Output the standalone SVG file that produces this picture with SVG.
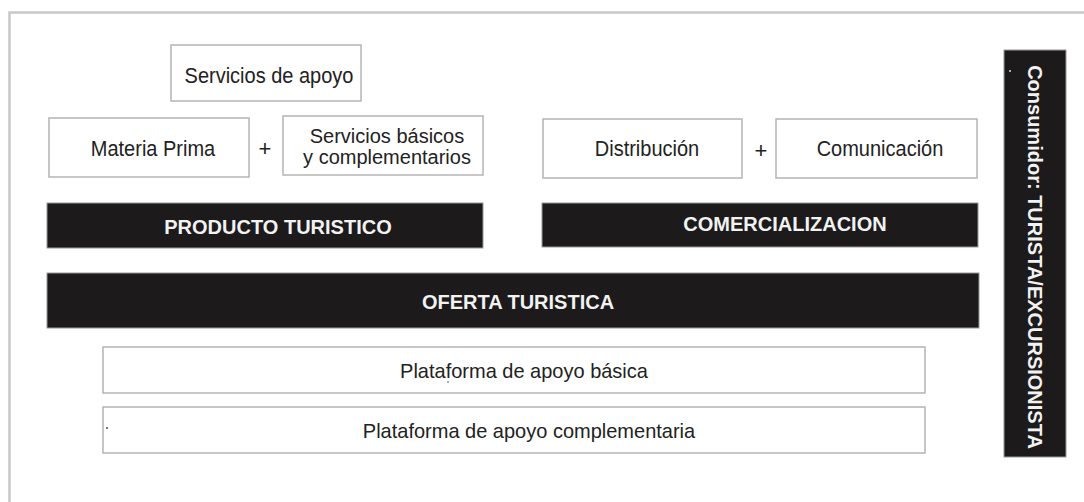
<svg xmlns="http://www.w3.org/2000/svg" width="1084" height="502" viewBox="0 0 1084 502">
<style>
.box{fill:#fff;stroke:#b4b4b4;stroke-width:1.5}
.bar{fill:#1c1a1b;stroke:#9a9a9a;stroke-width:1}
.t{font-family:"Liberation Sans",Arial,sans-serif;font-size:20px;fill:#222;text-anchor:middle}
.b{font-family:"Liberation Sans",Arial,sans-serif;font-size:20px;font-weight:bold;fill:#f2f2f2;text-anchor:middle}
.frame{fill:none;stroke:#c8c8c8;stroke-width:2.5}
</style>
<rect width="1084" height="502" fill="#fff"/>
<path class="frame" d="M9.5,504 V12.5 H1086"/>
<g id="servicios-apoyo"><rect class="box" x="171" y="45" width="190" height="56"/><text class="t" transform="translate(269,83) scale(1,1.12)">Servicios de apoyo</text></g>
<g id="materia-prima"><rect class="box" x="49" y="118" width="200" height="59"/><text class="t" transform="translate(153,156) scale(1,1.12)">Materia Prima</text></g>
<g id="servicios-basicos"><rect class="box" x="283" y="116" width="200" height="59"/><text class="t" x="387" y="143"><tspan x="387" y="143">Servicios básicos</tspan><tspan x="387" y="164">y complementarios</tspan></text></g>
<g id="distribucion"><rect class="box" x="543" y="119" width="199" height="59"/><text class="t" transform="translate(647,156) scale(1,1.1)">Distribución</text></g>
<g id="comunicacion"><rect class="box" x="776" y="119" width="201" height="59"/><text class="t" transform="translate(880,156) scale(1,1.1)">Comunicación</text></g>
<g id="connectors">
<text class="t" x="265" y="156" style="font-size:22px">+</text>
<text class="t" x="761" y="158" style="font-size:22px">+</text>
</g>
<g id="producto"><rect class="bar" x="47" y="203" width="436" height="45"/><text class="b" x="278" y="234">PRODUCTO TURISTICO</text></g>
<g id="comercializacion"><rect class="bar" x="542" y="203" width="436" height="44"/><text class="b" x="785" y="231">COMERCIALIZACION</text></g>
<g id="oferta"><rect class="bar" x="47" y="273" width="932" height="55"/><text class="b" x="518" y="309">OFERTA TURISTICA</text></g>
<g id="plataforma-basica"><rect class="box" x="103" y="347" width="822" height="46"/><text class="t" transform="translate(524,378) scale(1,1.05)">Plataforma de apoyo básica</text><circle cx="448" cy="382" r="0.8" fill="#444"/></g>
<g id="plataforma-complementaria"><rect class="box" x="103" y="407" width="822" height="46"/><text class="t" transform="translate(529,438) scale(1,1.05)">Plataforma de apoyo complementaria</text><circle cx="107" cy="428" r="1" fill="#444"/></g>
<g id="consumidor"><rect class="bar" x="1004" y="50" width="62" height="407"/><circle cx="1010" cy="71" r="1" fill="#ddd"/><text class="b" transform="translate(1028,257) rotate(90)" x="0" y="0">Consumidor: TURISTA/EXCURSIONISTA</text></g>
</svg>
